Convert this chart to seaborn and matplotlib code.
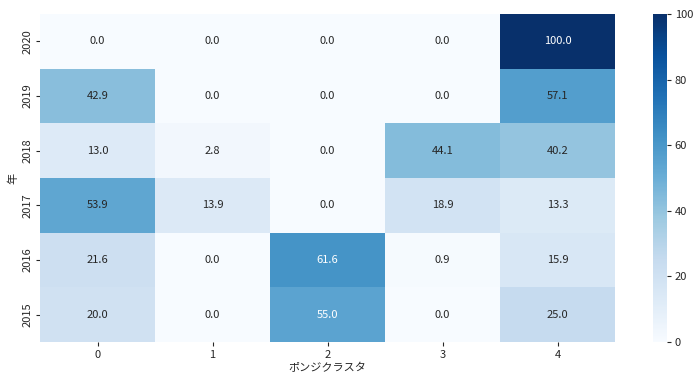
import matplotlib
matplotlib.use("Agg")
import matplotlib.pyplot as plt
import seaborn as sns
import pandas as pd
import numpy as np

years = [2020, 2019, 2018, 2017, 2016, 2015]
clusters = [0, 1, 2, 3, 4]
v2020 = [0.0, 0.0, 0.0, 0.0, 100.0]
v2019 = [42.9, 0.0, 0.0, 0.0, 57.1]
v2018 = [13.0, 2.8, 0.0, 44.1, 40.2]
v2017 = [53.9, 13.9, 0.0, 18.9, 13.3]
v2016 = [21.6, 0.0, 61.6, 0.9, 15.9]
v2015 = [20.0, 0.0, 55.0, 0.0, 25.0]

df = pd.DataFrame([v2020, v2019, v2018, v2017, v2016, v2015], index=years, columns=clusters)

sns.set_theme(style="ticks")
plt.rcParams['font.family'] = ['Noto Sans CJK JP', 'DejaVu Sans']
plt.rcParams.update({
    'font.size': 8,
    'xtick.major.size': 3, 'ytick.major.size': 3,
    'xtick.major.width': 0.8, 'ytick.major.width': 0.8,
    'xtick.major.pad': 2.5, 'ytick.major.pad': 2.5,
    'axes.labelpad': 2.5,
})

fig = plt.figure(figsize=(6.97, 3.76), dpi=100)
ax = fig.add_axes([40/697, 1-342/376, (615-40)/697, (342-14)/376])
cax = fig.add_axes([653/697, 1-342/376, 14/697, (342-14)/376])
sns.heatmap(df, ax=ax, cbar_ax=cax, cmap="Blues", vmin=0, vmax=100,
            annot=True, fmt=".1f", annot_kws={"size": 8})
for t in ax.texts:
    t.set_color("white" if t.get_text() in ("100.0", "61.6", "55.0") else "#262626")
ax.set_xlabel("ポンジクラスタ", fontsize=8)
ax.set_ylabel("年", fontsize=8)
ax.tick_params(labelsize=8)
cax.tick_params(labelsize=8, length=3, width=0.8)
fig.savefig("out.png", dpi=100)
